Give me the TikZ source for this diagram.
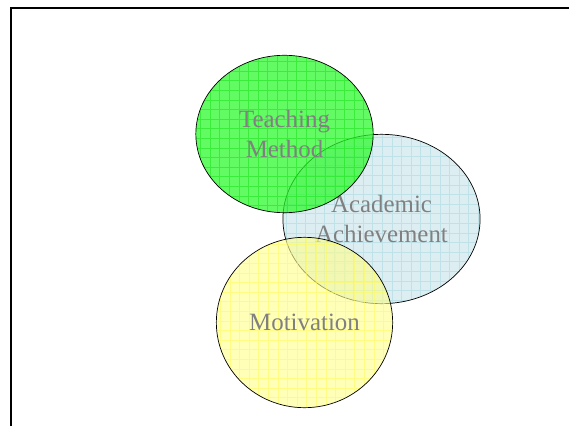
\documentclass[tikz,border=0pt]{standalone}
\usepackage{fontspec}
\setmainfont{Liberation Serif}
\usetikzlibrary{shapes.geometric}
\definecolor{vennGreen}{RGB}{40, 250, 40}
\definecolor{vennGreenLine}{RGB}{20, 225, 20}
\definecolor{vennBlue}{RGB}{221, 238, 242}
\definecolor{vennBlueLine}{RGB}{190, 226, 232}
\definecolor{vennYellow}{RGB}{255, 255, 140}
\definecolor{vennYellowLine}{RGB}{255, 250, 80}
\definecolor{labelGray}{RGB}{128, 128, 128}

\tikzset{
  venn/.style={ellipse, draw=black, line width=0.7bp, align=center,
    text=labelGray, text opacity=1, font=\fontsize{25}{30}\selectfont},
  vgrid/.style={path picture={
    \draw[#1, line width=0.7bp, step=9.6]
      (path picture bounding box.south west) grid (path picture bounding box.north east);}}
}

\begin{document}
\begin{tikzpicture}[x=1bp, y=1bp]
    \useasboundingbox (0,0) rectangle (569,426);
    \fill[white] (0,0) rectangle (569,426);
    \draw[line width=2.5bp] (11,0) |- (569,418);
    % achievement first, the other two overlap it
    \node[venn, fill=vennBlue, vgrid=vennBlueLine,
          minimum width=195, minimum height=170] (achieve) at (381.5,207) {Academic\\Achievement};
    \node[venn, fill=vennGreen, fill opacity=0.72, vgrid={vennGreenLine, opacity=0.5},
          minimum width=178, minimum height=158] (teach) at (284.5,292) {Teaching\\Method};
    \node[venn, fill=vennYellow, fill opacity=0.62, vgrid={vennYellowLine, opacity=0.5},
          minimum width=177, minimum height=171] (motiv) at (304.5,103.5) {Motivation};
\end{tikzpicture}
\end{document}
